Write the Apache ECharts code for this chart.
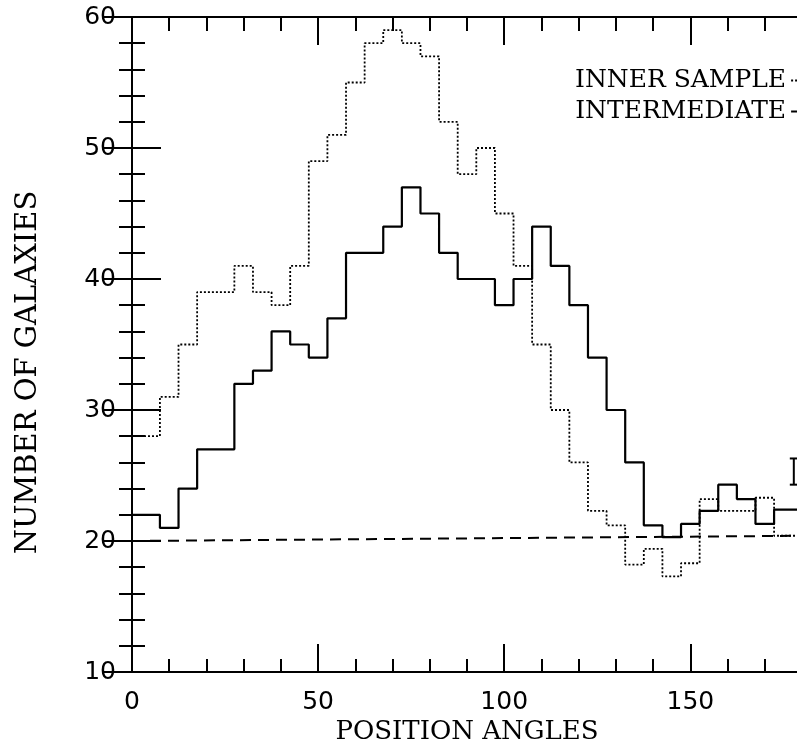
<!DOCTYPE html>
<html>
<head>
<meta charset="UTF-8">
<title>Position angles</title>
<script src="https://cdn.jsdelivr.net/npm/echarts@6/dist/echarts.min.js"></script>
<style>
  html, body { margin: 0; padding: 0; background: #fff; }
  #chart { width: 797px; height: 744px; }
</style>
</head>
<body>
<div id="chart"></div>
<script>
    // left edge of every histogram bin (degrees); last bin runs to 180
    var binStart = [0, 7.5, 12.5, 17.5, 22.5, 27.5, 32.5, 37.5, 42.5, 47.5,
        52.5, 57.5, 62.5, 67.5, 72.5, 77.5, 82.5, 87.5, 92.5, 97.5,
        102.5, 107.5, 112.5, 117.5, 122.5, 127.5, 132.5, 137.5, 142.5, 147.5,
        152.5, 157.5, 162.5, 167.5, 172.5];
    var binEnd = 180;

    var inner = [28, 31, 35, 39, 39, 41, 39, 38, 41, 49,
        51, 55, 58, 59, 58, 57, 52, 48, 50, 45,
        41, 35, 30, 26, 22.3, 21.2, 18.2, 19.4, 17.3, 18.3,
        23.2, 22.3, 22.3, 23.3, 20.4];

    var intermediate = [22, 21, 24, 27, 27, 32, 33, 36, 35, 34,
        37, 42, 42, 44, 47, 45, 42, 40, 40, 38,
        40, 44, 41, 38, 34, 30, 26, 21.2, 20.3, 21.3,
        22.3, 24.3, 23.2, 21.3, 22.4];

    // expected level (dashed)
    var uniformX = [0, 180];
    var uniformY = [20.0, 20.4];

    // sample error bar at the right edge: [x, low, high]
    var errBar = [[177.8, 24.3, 26.3]];

    var xTicks = [0, 50, 100, 150];

    function steps(vals) {
        var out = [];
        for (let i = 0; i < vals.length; i++) {
            out.push([binStart[i], vals[i]]);
        }
        out.push([binEnd, vals[vals.length - 1]]);
        return out;
    }

    var serif = 'DejaVu Serif';
    var sans = 'DejaVu Sans';
    var ink = '#000';

    function xAx(pos, interval, len, labels) {
        return {
            type: 'value', position: pos, min: 0, max: 180, interval: interval,
            axisLine: {show: true, lineStyle: {color: ink, width: 2}},
            axisTick: {show: true, inside: true, length: len, lineStyle: {color: ink, width: 2}},
            axisLabel: {
                show: labels, margin: 18, color: ink, fontFamily: sans, fontSize: 25,
                formatter: function (v) { return xTicks.indexOf(v) >= 0 ? String(v) : ''; }
            },
            splitLine: {show: false}
        };
    }

    function yAx(pos, labels) {
        return {
            type: 'value', position: pos, min: 10, max: 60, interval: 10,
            axisLine: {show: true, lineStyle: {color: ink, width: 2}},
            axisTick: {show: true, inside: true, length: 29, lineStyle: {color: ink, width: 2}},
            minorTick: {show: true, splitNumber: 5, length: 13, lineStyle: {color: ink, width: 2}},
            axisLabel: {show: labels, margin: 16, color: ink, fontFamily: sans, fontSize: 25},
            splitLine: {show: false}
        };
    }

    var xBottom = xAx('bottom', 10, 13, true);
    xBottom.name = 'POSITION ANGLES';
    xBottom.nameLocation = 'middle';
    xBottom.nameGap = 47;
    xBottom.nameMoveOverlap = false;
    xBottom.nameTextStyle = {fontFamily: serif, fontSize: 26, color: ink};

    var yLeft = yAx('left', true);
    yLeft.name = 'NUMBER OF GALAXIES';
    yLeft.nameLocation = 'middle';
    yLeft.nameGap = 89;
    yLeft.nameMoveOverlap = false;
    yLeft.nameTextStyle = {fontFamily: serif, fontSize: 29, color: ink, padding: [0, 56, 0, 0]};

    var chart = echarts.init(document.getElementById('chart'));

    var option = {
        backgroundColor: '#fff',
        animation: false,
        grid: {left: 132, right: -5, top: 17, bottom: 72, outerBoundsMode: 'none', containLabel: false},
        legend: {
            data: ['INNER SAMPLE', 'INTERMEDIATE'],
            orient: 'vertical',
            left: 570, top: 63,
            align: 'right',
            itemWidth: 40, itemHeight: 10, itemGap: 6,
            textStyle: {fontFamily: serif, fontSize: 25, color: ink, lineHeight: 24}
        },
        xAxis: [
            xBottom,
            xAx('bottom', 50, 28, false),
            xAx('top', 10, 14, false),
            xAx('top', 50, 28, false)
        ],
        yAxis: [yLeft, yAx('right', false)],
        series: [
            {
                name: 'INNER SAMPLE',
                type: 'line',
                step: 'end',
                symbol: 'none',
                data: steps(inner),
                lineStyle: {color: ink, width: 1.8, type: [2, 2]},
                itemStyle: {color: ink}
            },
            {
                name: 'INTERMEDIATE',
                type: 'line',
                step: 'end',
                symbol: 'none',
                data: steps(intermediate),
                lineStyle: {color: ink, width: 2.2},
                itemStyle: {color: ink}
            },
            {
                name: 'uniform',
                type: 'line',
                symbol: 'none',
                data: uniformX.map(function (x, i) { return [x, uniformY[i]]; }),
                lineStyle: {color: ink, width: 2, type: [11, 7]}
            },
            {
                name: 'error',
                type: 'custom',
                data: errBar,
                renderItem: function (params, api) {
                    var lo = api.coord([api.value(0), api.value(1)]);
                    var hi = api.coord([api.value(0), api.value(2)]);
                    var st = {stroke: ink, lineWidth: 2};
                    return {
                        type: 'group',
                        children: [
                            {type: 'line', shape: {x1: lo[0], y1: lo[1], x2: hi[0], y2: hi[1]}, style: st},
                            {type: 'line', shape: {x1: lo[0] - 4, y1: lo[1], x2: lo[0] + 4, y2: lo[1]}, style: st},
                            {type: 'line', shape: {x1: hi[0] - 4, y1: hi[1], x2: hi[0] + 4, y2: hi[1]}, style: st}
                        ]
                    };
                }
            }
        ]
    };

    chart.setOption(option);
</script>
</body>
</html>
